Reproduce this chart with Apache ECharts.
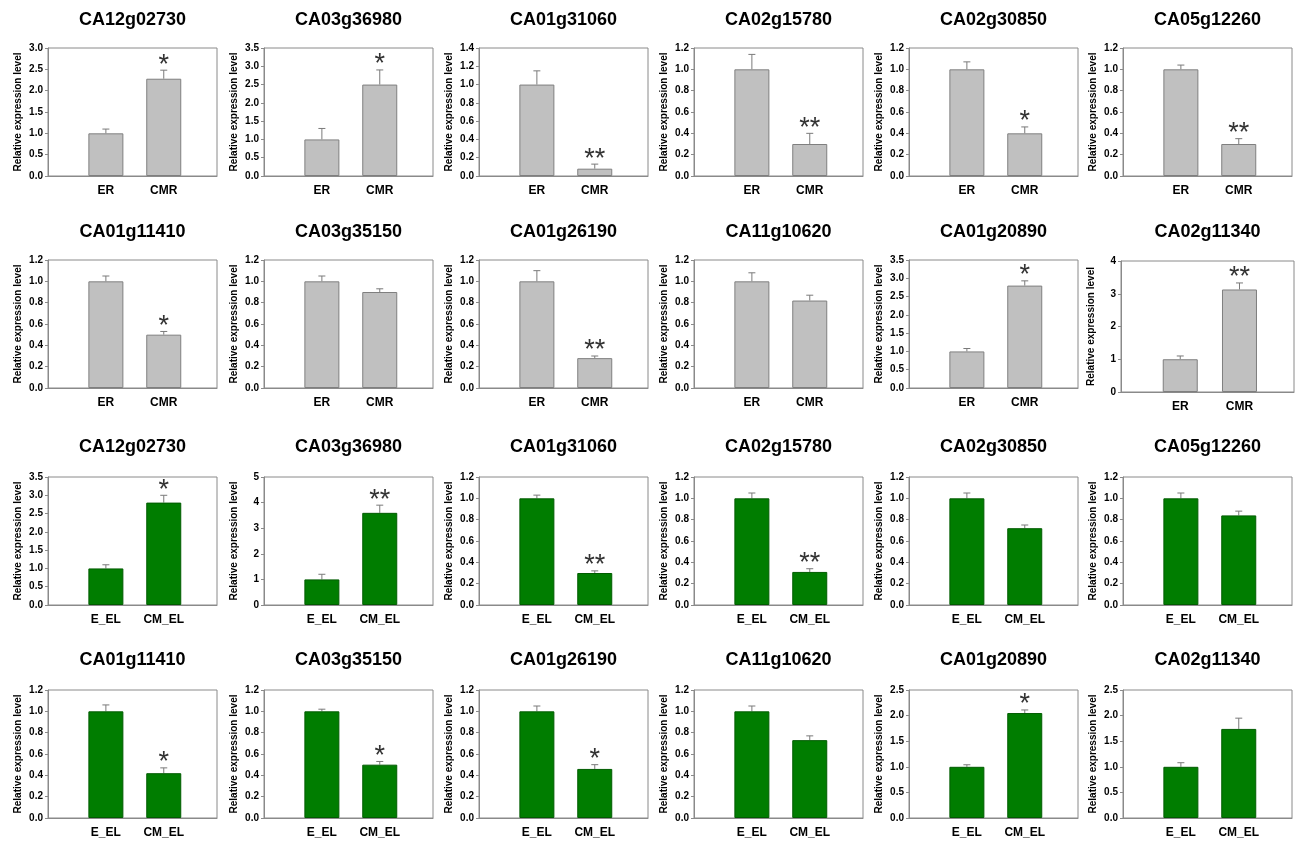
<!DOCTYPE html>
<html>
<head>
<meta charset="utf-8">
<title>Relative expression level</title>
<script src="https://cdn.jsdelivr.net/npm/echarts@6/dist/echarts.min.js"></script>
<style>
  html, body { margin: 0; padding: 0; background: #fff; }
  #chart { width: 1298px; height: 841px; }
</style>
</head>
<body>
<div id="chart"></div>
<script>
// Gene panels: first 12 compare ER vs CMR, last 12 compare E_EL vs CM_EL
const genes = [
  'CA12g02730', 'CA03g36980', 'CA01g31060', 'CA02g15780', 'CA02g30850', 'CA05g12260',
  'CA01g11410', 'CA03g35150', 'CA01g26190', 'CA11g10620', 'CA01g20890', 'CA02g11340',
  'CA12g02730', 'CA03g36980', 'CA01g31060', 'CA02g15780', 'CA02g30850', 'CA05g12260',
  'CA01g11410', 'CA03g35150', 'CA01g26190', 'CA11g10620', 'CA01g20890', 'CA02g11340'
];
const rootGroups = ['ER', 'CMR'];
const leafGroups = ['E_EL', 'CM_EL'];

const meanControl = [
  1.0, 1.0, 1.0, 1.0, 1.0, 1.0,
  1.0, 1.0, 1.0, 1.0, 1.0, 1.0,
  1.0, 1.0, 1.0, 1.0, 1.0, 1.0,
  1.0, 1.0, 1.0, 1.0, 1.0, 1.0
];
const errControl = [
  0.10, 0.30, 0.15, 0.14, 0.07, 0.04,
  0.05, 0.05, 0.10, 0.08, 0.08, 0.10,
  0.10, 0.20, 0.03, 0.05, 0.05, 0.05,
  0.06, 0.02, 0.05, 0.05, 0.04, 0.08
];
const meanTreated = [
  2.28, 2.50, 0.08, 0.30, 0.40, 0.30,
  0.50, 0.90, 0.28, 0.82, 2.80, 3.13,
  2.80, 3.60, 0.30, 0.31, 0.72, 0.84,
  0.42, 0.50, 0.46, 0.73, 2.05, 1.74
];
const errTreated = [
  0.20, 0.40, 0.05, 0.10, 0.06, 0.05,
  0.03, 0.03, 0.02, 0.05, 0.13, 0.20,
  0.20, 0.30, 0.02, 0.03, 0.03, 0.04,
  0.05, 0.03, 0.04, 0.04, 0.06, 0.21
];
const significance = [
  '*', '*', '**', '**', '*', '**',
  '*', '', '**', '', '*', '**',
  '*', '**', '**', '**', '', '',
  '*', '*', '*', '', '*', ''
];
const yMax = [
  3.0, 3.5, 1.4, 1.2, 1.2, 1.2,
  1.2, 1.2, 1.2, 1.2, 3.5, 4,
  3.5, 5, 1.2, 1.2, 1.2, 1.2,
  1.2, 1.2, 1.2, 1.2, 2.5, 2.5
];
const yStep = [
  0.5, 0.5, 0.2, 0.2, 0.2, 0.2,
  0.2, 0.2, 0.2, 0.2, 0.5, 1,
  0.5, 1, 0.2, 0.2, 0.2, 0.2,
  0.2, 0.2, 0.2, 0.2, 0.5, 0.5
];

// Layout of the 6 x 4 panel grid
const FONT = '"Liberation Sans", Arial, sans-serif';
const COL_LEFT = [48, 264, 479, 694, 909, 1123];
const ROW_TOP = [48, 260, 477, 690];
const ROW_TITLE = [21, 233, 448, 661];
const PLOT_W = 169;
const PLOT_H = 128;
const X_MAX = 2.92;

const grids = [], xAxes = [], yAxes = [], titles = [], series = [];

genes.forEach((gene, i) => {
  const r = Math.floor(i / 6), c = i % 6;
  const labels = i < 12 ? rootGroups : leafGroups;
  const green = i >= 12;
  let left = COL_LEFT[c], top = ROW_TOP[r], w = PLOT_W, h = PLOT_H;
  if (i === 11) { left = 1121; top = 261; w = 173; h = 131; }

  grids.push({
    left: left, top: top, width: w, height: h,
    show: true, borderColor: '#8a8a8a', borderWidth: 1, backgroundColor: 'transparent'
  });

  titles.push({
    text: gene,
    left: left + w / 2,
    top: ROW_TITLE[r] - 10,
    textAlign: 'center',
    padding: 0,
    textStyle: { fontFamily: FONT, fontSize: 18, fontWeight: 'bold', color: '#000' }
  });

  xAxes.push({
    gridIndex: i, type: 'value', min: 0, max: X_MAX, interval: 1,
    splitLine: { show: false },
    axisTick: { show: false },
    axisLine: { show: true, lineStyle: { color: '#8a8a8a', width: 1 } },
    axisLabel: {
      margin: 9, fontFamily: FONT, fontSize: 12, fontWeight: 'bold', color: '#000',
      showMaxLabel: false,
      formatter: v => (v === 1 ? labels[0] : v === 2 ? labels[1] : '')
    }
  });

  const step = yStep[i];
  yAxes.push({
    gridIndex: i, type: 'value', min: 0, max: yMax[i], interval: step,
    name: 'Relative expression level',
    nameLocation: 'middle', nameGap: 25,
    nameTextStyle: { fontFamily: FONT, fontSize: 10, fontWeight: 'bold', color: '#000' },
    splitLine: { show: false },
    axisLine: { show: true, lineStyle: { color: '#8a8a8a', width: 1 } },
    axisTick: { show: true, length: 3, lineStyle: { color: '#8a8a8a' } },
    axisLabel: {
      margin: 5, fontFamily: FONT, fontSize: 10, fontWeight: 'bold', color: '#000',
      formatter: v => (step >= 1 ? v.toFixed(0) : v.toFixed(1))
    }
  });

  series.push({
    type: 'bar',
    xAxisIndex: i, yAxisIndex: i,
    barWidth: 35,
    silent: true,
    itemStyle: {
      color: green ? '#007d00' : '#c0c0c0',
      borderColor: green ? '#005c00' : '#7f7f7f',
      borderWidth: 1
    },
    data: [[1, meanControl[i]], [2, meanTreated[i]]]
  });

  // Upper error whiskers plus significance stars above the treated bar
  series.push({
    type: 'custom',
    xAxisIndex: i, yAxisIndex: i,
    silent: true,
    data: [[1, meanControl[i], errControl[i]], [2, meanTreated[i], errTreated[i]]],
    renderItem: (params, api) => {
      const x = api.value(0), m = api.value(1), e = api.value(2);
      const base = api.coord([x, m]);
      const tip = api.coord([x, m + e]);
      const children = [
        { type: 'line', shape: { x1: base[0], y1: base[1], x2: tip[0], y2: tip[1] },
          style: { stroke: '#7a7a7a', lineWidth: 1 } },
        { type: 'line', shape: { x1: tip[0] - 3.5, y1: tip[1], x2: tip[0] + 3.5, y2: tip[1] },
          style: { stroke: '#7a7a7a', lineWidth: 1 } }
      ];
      const sig = params.dataIndex === 1 ? significance[i] : '';
      if (sig) {
        children.push({
          type: 'text', x: tip[0], y: tip[1] - 5,
          style: { text: sig, fontFamily: FONT, fontSize: 27, fill: '#333',
                   align: 'center', verticalAlign: 'middle' }
        });
      }
      return { type: 'group', children: children };
    }
  });
});

const chart = echarts.init(document.getElementById('chart'), null, { renderer: 'canvas' });
chart.setOption({
  animation: false,
  backgroundColor: '#fff',
  title: titles,
  grid: grids,
  xAxis: xAxes,
  yAxis: yAxes,
  series: series
});
</script>
</body>
</html>
